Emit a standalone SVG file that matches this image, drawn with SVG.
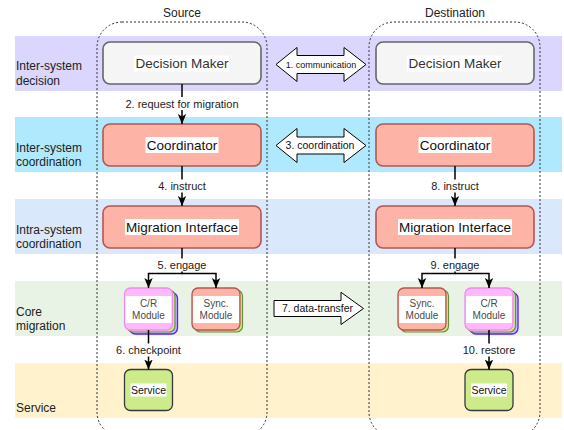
<svg xmlns="http://www.w3.org/2000/svg" width="564" height="430" viewBox="0 0 564 430">
<defs>
<style>
text{font-family:"Liberation Sans",Arial,sans-serif;}
.band-label{font-size:12px;fill:#222;}
.hdr{font-size:12px;fill:#222;text-anchor:middle;}
.box-dm{fill:#f5f5f5;stroke:#666;stroke-width:1.6;}
.box-co{fill:#fdb4a7;stroke:#b85450;stroke-width:1.6;}
.box-tx{font-size:13.5px;text-anchor:middle;}
.lbg{fill:#fff;}
.mod-tx{font-size:10px;fill:#4a4a4a;text-anchor:middle;}
.svc{fill:#cdeb8b;stroke:#36393d;stroke-width:1.3;}
.svc-tx{font-size:10.5px;fill:#111;text-anchor:middle;}
.crf{fill:#ffb8ff;stroke:#f08cf0;stroke-width:1.3;}
.crb{fill:#c8b8ff;stroke:#5522ee;stroke-width:1.3;}
.grn{fill:#cdeb8b;stroke:#6a8f3a;stroke-width:1.2;}
.syn{fill:#fdb4a7;stroke:#b85450;stroke-width:1.3;}
.conn{fill:none;stroke:#000;stroke-width:1.5;}
.elbl{font-size:11px;fill:#222;text-anchor:middle;}
.big{fill:#fff;stroke:#000;stroke-width:1;}
.cont{fill:none;stroke:#333;stroke-width:1;stroke-dasharray:2 2;}
</style>
<marker id="ah" markerUnits="userSpaceOnUse" markerWidth="10" markerHeight="10" viewBox="0 0 10 10" refX="10" refY="5" orient="auto">
<path d="M0,0.8 L10,5 L0,9.2 L2.5,5 Z" fill="#000"/>
</marker>
</defs>

<g id="bands">
<rect x="15" y="36" width="547" height="55" fill="#dbd6fd"/>
<rect x="15" y="117" width="547" height="55" fill="#b0e8fd"/>
<rect x="15" y="199" width="547" height="55" fill="#dae8fc"/>
<rect x="15" y="281" width="547" height="55" fill="#e8f2e5"/>
<rect x="15" y="363" width="547" height="55" fill="#fff2cc"/>
<text class="band-label" x="16" y="70">Inter-system</text>
<text class="band-label" x="16" y="85">decision</text>
<text class="band-label" x="16" y="152">Inter-system</text>
<text class="band-label" x="16" y="166">coordination</text>
<text class="band-label" x="16" y="234">Intra-system</text>
<text class="band-label" x="16" y="248">coordination</text>
<text class="band-label" x="16" y="316">Core</text>
<text class="band-label" x="16" y="330">migration</text>
<text class="band-label" x="16" y="412">Service</text>
</g>

<g id="containers">
<text class="hdr" x="182" y="16.5">Source</text>
<text class="hdr" x="455" y="16.5">Destination</text>
<rect class="cont" x="97" y="22" width="170" height="415" rx="25"/>
<rect class="cont" x="369" y="22" width="171" height="415" rx="25"/>
</g>

<g id="src-decision-maker">
<rect class="box-dm" x="103" y="42" width="158" height="42" rx="7"/>
<rect class="lbg" x="134" y="55.5" width="95" height="16"/>
<text class="box-tx" x="182" y="68" fill="#333">Decision Maker</text>
</g>
<g id="dst-decision-maker">
<rect class="box-dm" x="376" y="42" width="158" height="42" rx="7"/>
<rect class="lbg" x="407" y="55.5" width="95" height="16"/>
<text class="box-tx" x="455" y="68" fill="#333">Decision Maker</text>
</g>

<g id="src-coordinator">
<rect class="box-co" x="103" y="124" width="158" height="42" rx="7"/>
<rect class="lbg" x="145.5" y="137" width="73" height="16"/>
<text class="box-tx" x="182" y="150" fill="#111">Coordinator</text>
</g>
<g id="dst-coordinator">
<rect class="box-co" x="376" y="124" width="158" height="42" rx="7"/>
<rect class="lbg" x="418.5" y="137" width="73" height="16"/>
<text class="box-tx" x="455" y="150" fill="#111">Coordinator</text>
</g>

<g id="src-migration-interface">
<rect class="box-co" x="103" y="206" width="158" height="42" rx="7"/>
<rect class="lbg" x="125" y="219" width="114" height="16"/>
<text class="box-tx" x="182" y="232" fill="#111">Migration Interface</text>
</g>
<g id="dst-migration-interface">
<rect class="box-co" x="376" y="206" width="158" height="42" rx="7"/>
<rect class="lbg" x="398" y="219" width="114" height="16"/>
<text class="box-tx" x="455" y="232" fill="#111">Migration Interface</text>
</g>

<g id="src-cr-module">
<rect class="crb" x="129.5" y="292.5" width="48" height="41.5" rx="6"/>
<rect class="grn" x="127" y="290" width="48" height="42" rx="6"/>
<rect class="crf" x="124.5" y="288" width="48" height="42" rx="6"/>
<rect class="lbg" x="125.5" y="296" width="46" height="27"/>
<text class="mod-tx" x="148.5" y="306.5">C/R</text>
<text class="mod-tx" x="148.5" y="318.5">Module</text>
</g>
<g id="src-sync-module">
<rect class="grn" x="194.5" y="290" width="48" height="42" rx="6"/>
<rect class="syn" x="192" y="288" width="48" height="42" rx="6"/>
<rect class="lbg" x="193" y="296" width="46" height="27"/>
<text class="mod-tx" x="216" y="306.5">Sync.</text>
<text class="mod-tx" x="216" y="318.5">Module</text>
</g>
<g id="dst-sync-module">
<rect class="grn" x="400.5" y="290" width="48" height="42" rx="6"/>
<rect class="syn" x="398" y="288" width="48" height="42" rx="6"/>
<rect class="lbg" x="399" y="296" width="46" height="27"/>
<text class="mod-tx" x="422" y="306.5">Sync.</text>
<text class="mod-tx" x="422" y="318.5">Module</text>
</g>
<g id="dst-cr-module">
<rect class="crb" x="470" y="292.5" width="48" height="41.5" rx="6"/>
<rect class="grn" x="467.5" y="290" width="48" height="42" rx="6"/>
<rect class="crf" x="465" y="288" width="48" height="42" rx="6"/>
<rect class="lbg" x="466" y="296" width="46" height="27"/>
<text class="mod-tx" x="489" y="306.5">C/R</text>
<text class="mod-tx" x="489" y="318.5">Module</text>
</g>

<g id="src-service">
<rect class="svc" x="124.5" y="369.5" width="48" height="41" rx="6"/>
<rect class="lbg" x="130.5" y="383.5" width="36" height="13"/>
<text class="svc-tx" x="148.5" y="393.8">Service</text>
</g>
<g id="dst-service">
<rect class="svc" x="465" y="369.5" width="48" height="41" rx="6"/>
<rect class="lbg" x="471" y="383.5" width="36" height="13"/>
<text class="svc-tx" x="489" y="393.8">Service</text>
</g>

<g id="connectors">
<path class="conn" d="M182,84 V124" marker-end="url(#ah)"/>
<rect class="lbg" x="126" y="97" width="112" height="13"/>
<text class="elbl" x="182" y="107.5">2. request for migration</text>

<path class="conn" d="M182,166 V206" marker-end="url(#ah)"/>
<rect class="lbg" x="157" y="179.5" width="50" height="13"/>
<text class="elbl" x="182" y="190">4. instruct</text>

<path class="conn" d="M455,166 V206" marker-end="url(#ah)"/>
<rect class="lbg" x="430" y="179.5" width="50" height="13"/>
<text class="elbl" x="455" y="190">8. instruct</text>

<path class="conn" d="M182,248 V273.5 H148.5 V288" marker-end="url(#ah)"/>
<path class="conn" d="M182,273.5 H216 V288" marker-end="url(#ah)"/>
<rect class="lbg" x="156" y="258.5" width="52" height="13"/>
<text class="elbl" x="182" y="269">5. engage</text>

<path class="conn" d="M455,248 V273.5 H422 V288" marker-end="url(#ah)"/>
<path class="conn" d="M455,273.5 H489 V288" marker-end="url(#ah)"/>
<rect class="lbg" x="429" y="258.5" width="52" height="13"/>
<text class="elbl" x="455" y="269">9. engage</text>

<path class="conn" d="M148.5,330 V369.5" marker-end="url(#ah)"/>
<rect class="lbg" x="115" y="343.5" width="67" height="13"/>
<text class="elbl" x="148.5" y="354">6. checkpoint</text>

<path class="conn" d="M489,330 V369.5" marker-end="url(#ah)"/>
<rect class="lbg" x="461" y="343.5" width="56" height="13"/>
<text class="elbl" x="489" y="354">10. restore</text>

<path class="big" d="M276,64.5 L297,47.5 L297,55.5 L344,55.5 L344,47.5 L366,64.5 L344,81.5 L344,73.5 L297,73.5 L297,81.5 Z"/>
<text x="321" y="67.5" font-size="9" text-anchor="middle" fill="#111">1. communication</text>

<path class="big" d="M276,145.5 L297,128.5 L297,137 L344,137 L344,128.5 L366,145.5 L344,162.5 L344,154 L297,154 L297,162.5 Z"/>
<text x="320" y="149" font-size="10.5" text-anchor="middle" fill="#111">3. coordination</text>

<path class="big" d="M274,300.5 L341,300.5 L341,292.3 L363.5,308.5 L341,324.5 L341,316.5 L274,316.5 Z"/>
<text x="317.5" y="312.3" font-size="10.5" text-anchor="middle" fill="#111">7. data-transfer</text>
</g>
</svg>
